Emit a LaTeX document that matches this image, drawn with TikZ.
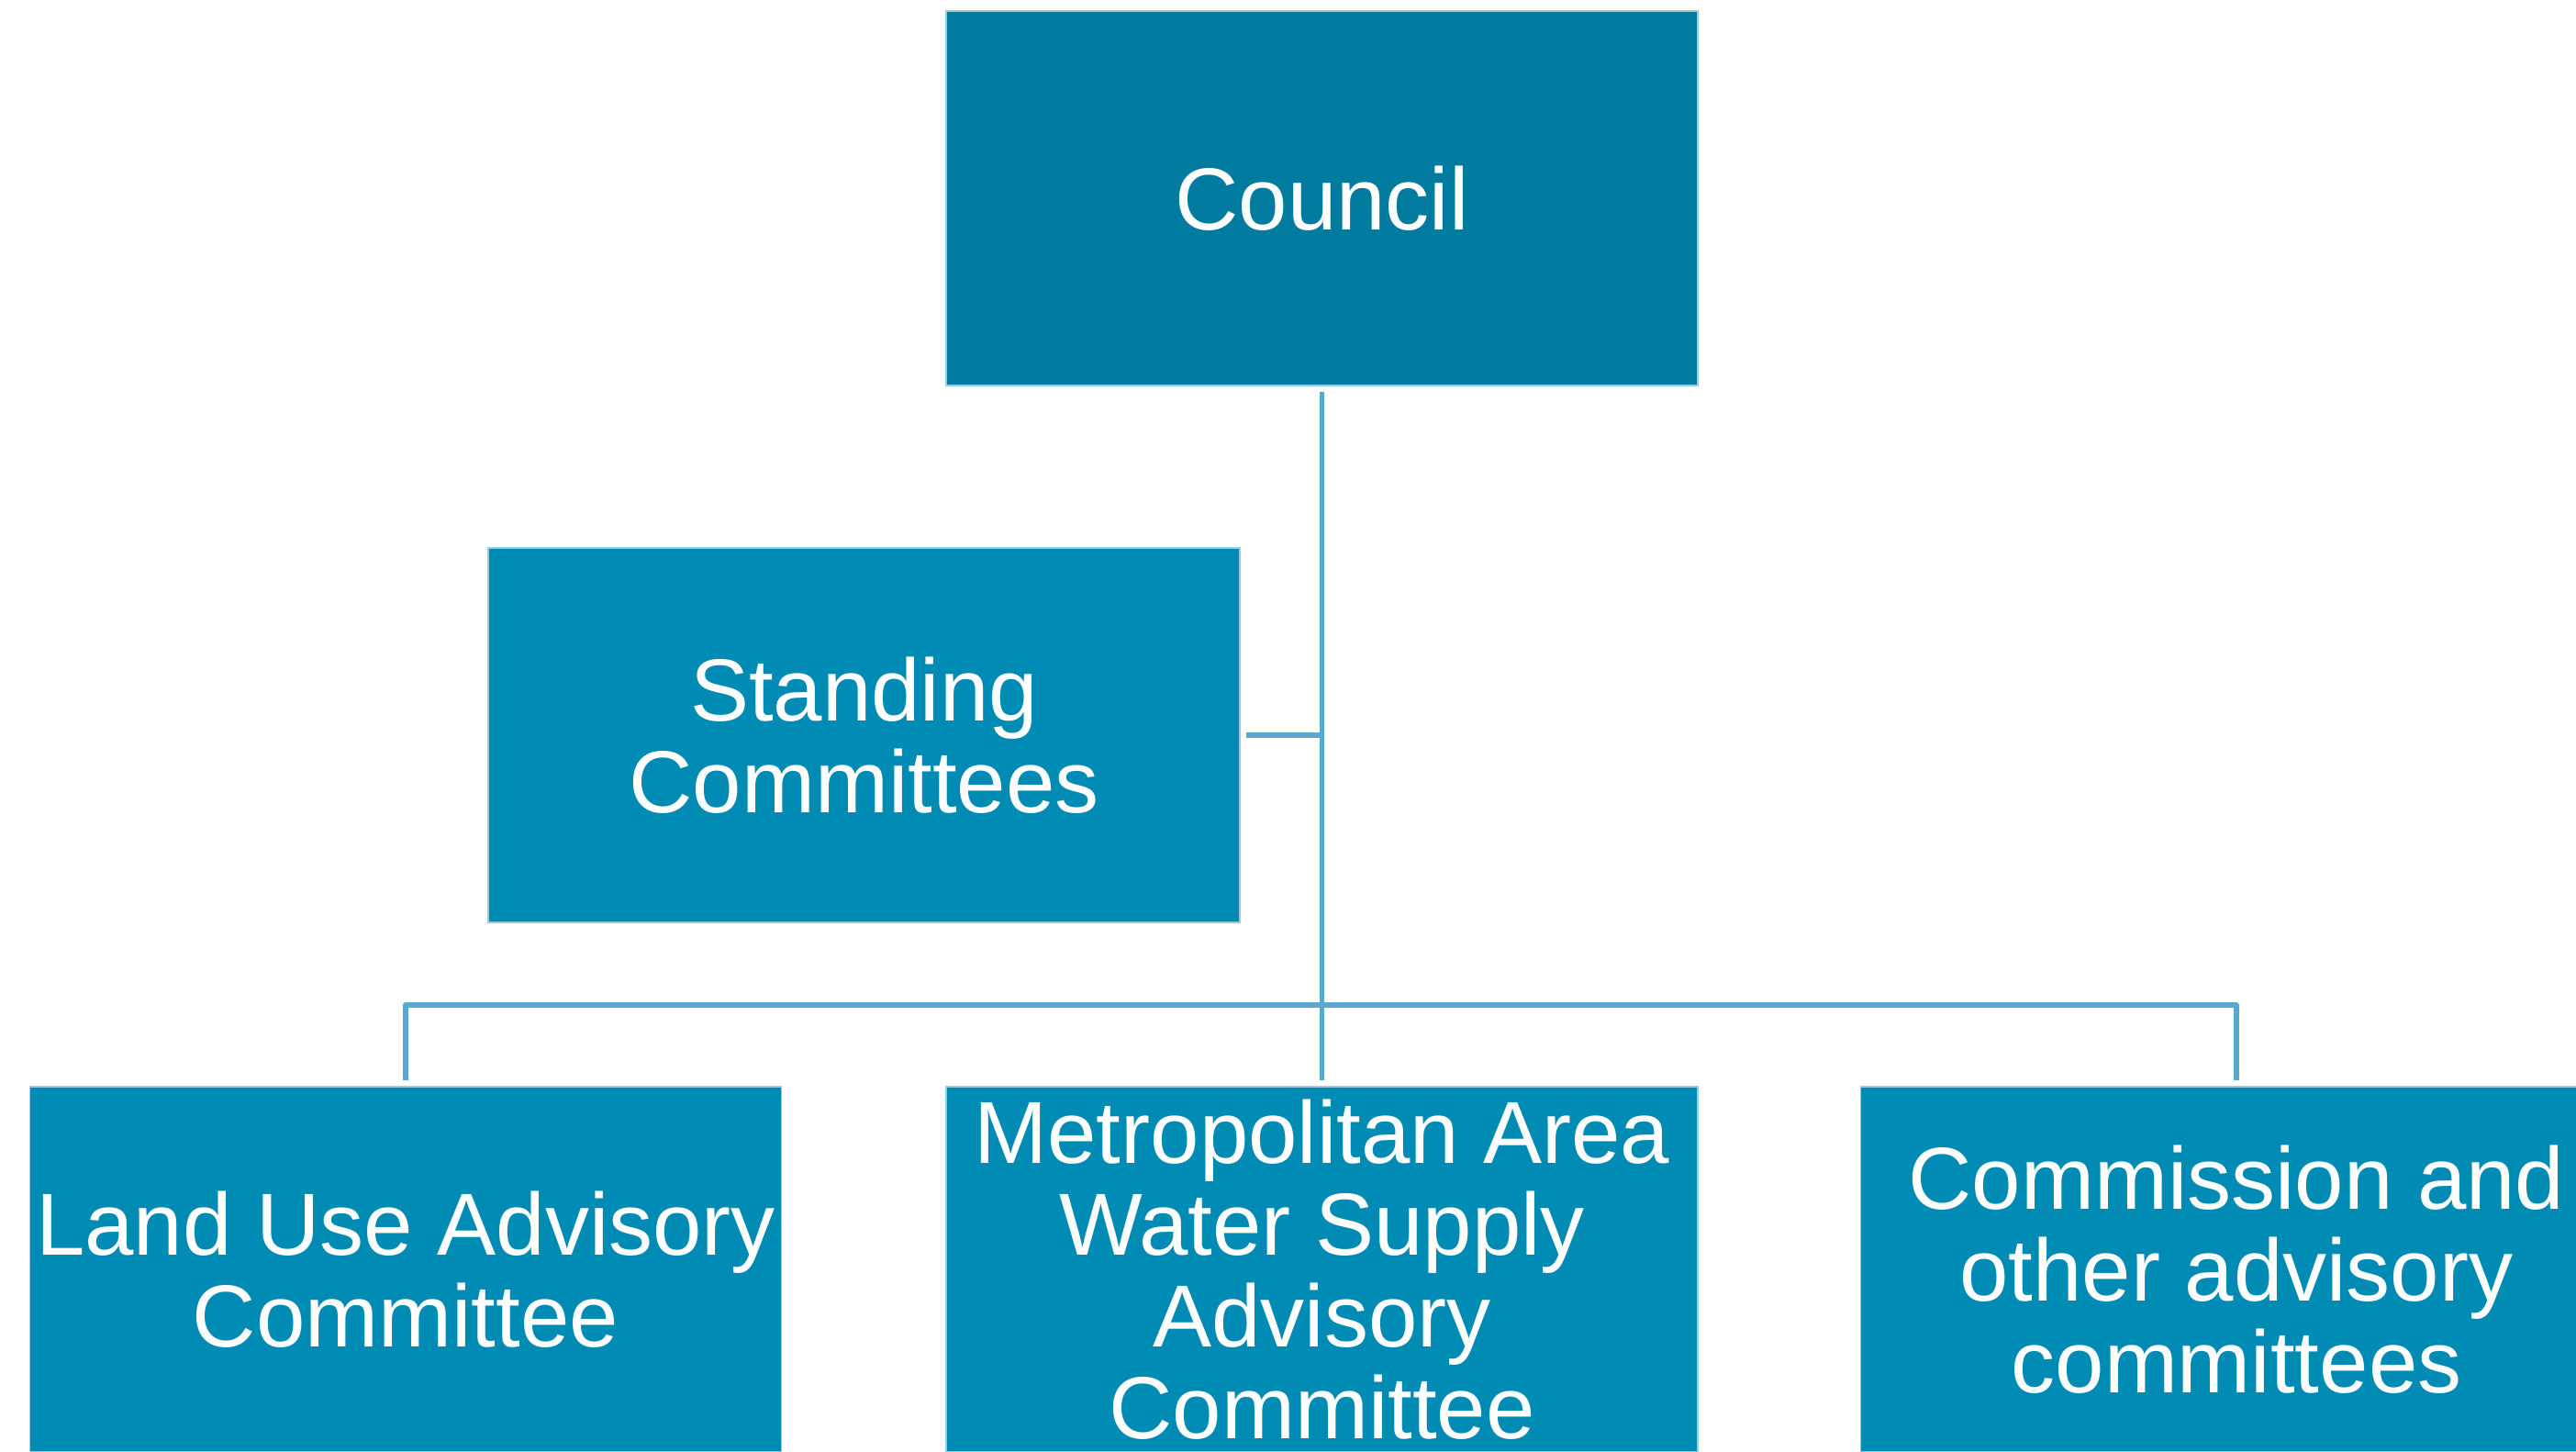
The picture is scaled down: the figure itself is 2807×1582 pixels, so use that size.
\documentclass[tikz,border=0pt]{standalone}
\usepackage{fontspec}
\setmainfont{Liberation Sans}
\definecolor{topfill}{RGB}{0,123,160}
\definecolor{boxfill}{RGB}{0,139,180}
\definecolor{connc}{RGB}{91,168,206}
\definecolor{edgec}{RGB}{150,205,225}
\tikzset{
  orgbox/.style={rectangle, fill=boxfill, draw=edgec, line width=0.3pt,
    minimum width=204.75pt, minimum height=102pt, inner sep=0pt,
    align=center, text=white, font=\fontsize{24}{25}\selectfont},
  topbox/.style={orgbox, fill=topfill},
  lowbox/.style={orgbox, minimum height=99.5pt},
  conn/.style={draw=connc, line width=1.375pt, line join=round}
}
\begin{document}
\begin{tikzpicture}[x=0.25pt,y=-0.25pt]
\useasboundingbox (0,0) rectangle (2807,1582);
\clip (0,0) rectangle (2807,1582);
\fill[white] (0,0) rectangle (2807,1582);
\node[topbox] (council) at (1440.5,216) {Council};
\node[orgbox] (standing) at (941.5,801) {Standing\\Committees};
\node[lowbox] (land) at (442,1383) {Land Use Advisory\\Committee};
\node[lowbox] (metro) at (1440.5,1383) {Metropolitan Area\\Water Supply\\Advisory\\Committee};
\node[lowbox] (comm) at (2437,1383) {Commission and\\other advisory\\committees};
\coordinate (bus) at (1440.5,1095);
\draw[conn, shorten <=1.5pt, shorten >=1.5pt] (council.south) -- (metro.north);
\draw[conn, shorten <=1.5pt] (standing.east) -- (standing.east -| council.south);
\draw[conn, shorten <=1.5pt, shorten >=1.5pt] (land.north) |- (bus) -| (comm.north);
\end{tikzpicture}
\end{document}
